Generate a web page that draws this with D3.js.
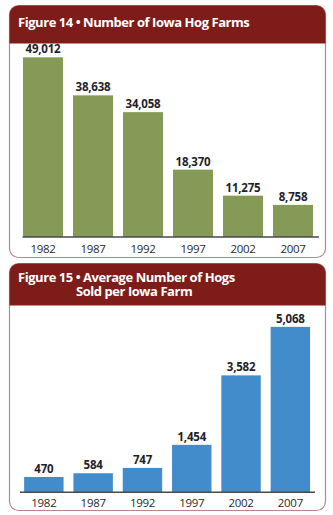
<!DOCTYPE html>
<html>
<head>
<meta charset="utf-8">
<script src="https://cdn.jsdelivr.net/npm/d3@7"></script>
<style>
  html, body { margin: 0; padding: 0; background: #fff; }
  svg { display: block; }
</style>
</head>
<body>
<svg id="chart" width="333" height="515"></svg>
<script>
// Census years shared by both figures
const years = ["1982", "1987", "1992", "1997", "2002", "2007"];

// Figure 14: number of Iowa hog farms
const farms = [49012, 38638, 34058, 18370, 11275, 8758];

// Figure 15: average number of hogs sold per Iowa farm
const hogsPerFarm = [470, 584, 747, 1454, 3582, 5068];

// Header titles (second figure wraps onto two lines)
const title14 = ["Figure 14 \u2022 Number of Iowa Hog Farms"];
const title15 = ["Figure 15 \u2022 Average Number of Hogs", "Sold per Iowa Farm"];

const svg = d3.select("#chart");
const fmt = d3.format(",");

const HEADER = "#7e1c19";
const BORDER = "#b98886";
const FONT = "'Open Sans', 'DejaVu Sans', sans-serif";

// Rounded frame with a filled header band whose top corners follow the frame
function panel(g, x0, y0, x1, y1, headerH, r) {
  const frame = d3.path();
  frame.moveTo(x0 + r, y0);
  frame.lineTo(x1 - r, y0);
  frame.arcTo(x1, y0, x1, y0 + r, r);
  frame.lineTo(x1, y1 - r);
  frame.arcTo(x1, y1, x1 - r, y1, r);
  frame.lineTo(x0 + r, y1);
  frame.arcTo(x0, y1, x0, y1 - r, r);
  frame.lineTo(x0, y0 + r);
  frame.arcTo(x0, y0, x0 + r, y0, r);
  frame.closePath();
  g.append("path").attr("d", frame.toString())
    .attr("fill", "#fff").attr("stroke", BORDER).attr("stroke-width", 1.2);

  const head = d3.path();
  head.moveTo(x0, y0 + headerH);
  head.lineTo(x0, y0 + r);
  head.arcTo(x0, y0, x0 + r, y0, r);
  head.lineTo(x1 - r, y0);
  head.arcTo(x1, y0, x1, y0 + r, r);
  head.lineTo(x1, y0 + headerH);
  head.closePath();
  g.append("path").attr("d", head.toString()).attr("fill", HEADER);
}

function barChart(opts) {
  const g = svg.append("g");
  panel(g, opts.box[0], opts.box[1], opts.box[2], opts.box[3], opts.headerH, 9);

  // title, one tspan per line
  const title = g.append("text")
    .attr("font-family", FONT)
    .attr("font-weight", 700)
    .attr("font-size", 13)
    .attr("letter-spacing", -0.45)
    .attr("fill", "#fff");
  opts.title.forEach((t, i) => {
    title.append("tspan")
      .attr("x", opts.titlePos[i][0])
      .attr("y", opts.titlePos[i][1])
      .text(t);
  });

  const x = d3.scaleBand()
    .domain(years)
    .range(opts.xRange)
    .paddingInner(0.2)
    .paddingOuter(0.1);

  const y = d3.scaleLinear()
    .domain([0, opts.yMax])
    .range([opts.baseline, opts.yTop]);

  const data = years.map((yr, i) => ({ year: yr, value: opts.values[i] }));

  g.selectAll("rect.bar")
    .data(data)
    .join("rect")
    .attr("class", "bar")
    .attr("x", d => x(d.year))
    .attr("width", x.bandwidth())
    .attr("y", d => y(d.value))
    .attr("height", d => y(0) - y(d.value))
    .attr("fill", opts.color);

  g.selectAll("text.val")
    .data(data)
    .join("text")
    .attr("class", "val")
    .attr("x", d => x(d.year) + x.bandwidth() / 2)
    .attr("y", d => y(d.value) - 4)
    .attr("text-anchor", "middle")
    .attr("font-family", FONT)
    .attr("font-weight", 700)
    .attr("font-size", 11.5)
    .attr("letter-spacing", -0.2)
    .attr("fill", "#1f1f2a")
    .text(d => fmt(d.value));

  // baseline axis with year labels
  const axis = d3.axisBottom(x).tickSize(0).tickPadding(0);
  const ax = g.append("g")
    .attr("transform", `translate(0,${opts.baseline})`)
    .call(axis);
  ax.select(".domain")
    .attr("d", `M${opts.axisX[0]},0H${opts.axisX[1]}`)
    .attr("stroke", "#4a4a4a")
    .attr("stroke-width", 1.5);
  ax.selectAll(".tick text")
    .attr("dy", null)
    .attr("y", opts.yearDy)
    .attr("font-family", FONT)
    .attr("font-size", 11.5)
    .attr("letter-spacing", -0.3)
    .attr("fill", "#2a2a2a");
}

barChart({
  box: [9.5, 5.5, 325.5, 257.5],
  headerH: 38,
  title: title14,
  titlePos: [[18, 27]],
  values: farms,
  yMax: 50000,
  baseline: 237,
  yTop: 237 - 183.3,
  xRange: [18, 318],
  axisX: [22.5, 319],
  yearDy: 15.5,
  color: "#859a56"
});

barChart({
  box: [9.5, 263.5, 325.5, 510.5],
  headerH: 42,
  title: title15,
  titlePos: [[18, 282], [76, 295.5]],
  values: hogsPerFarm,
  yMax: 5000,
  baseline: 492.3,
  yTop: 492.3 - 163.2,
  xRange: [19.2, 315],
  axisX: [20, 315],
  yearDy: 15,
  color: "#438ccb"
});
</script>
</body>
</html>
